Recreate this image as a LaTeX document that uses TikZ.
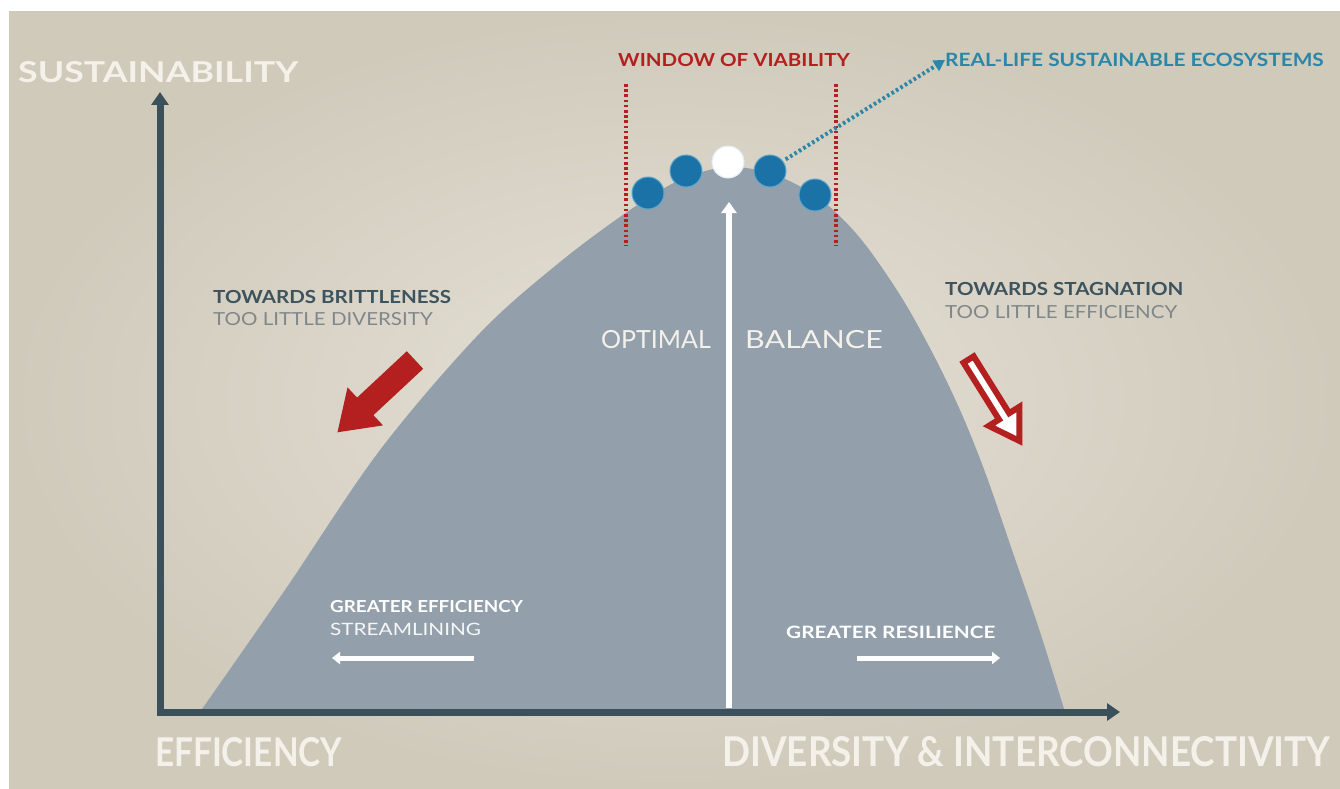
\documentclass[tikz,border=0pt]{standalone}
\usepackage{fontspec}
\setmainfont{Lato}
\newfontfamily\wf[FakeStretch=1.14]{Lato}
\newfontfamily\wfx[FakeStretch=1.22]{Lato}
\usetikzlibrary{arrows.meta,calc}
\definecolor{bgout}{HTML}{D0CABB}
\definecolor{bgin}{HTML}{E6E1D7}
\definecolor{hill}{HTML}{93A0AB}
\definecolor{axisc}{HTML}{3A515B}
\definecolor{redc}{HTML}{B3201F}
\definecolor{bluec}{HTML}{1A72A6}
\definecolor{bluerim}{HTML}{5FA6CC}
\definecolor{tealc}{HTML}{2B86A7}
\definecolor{darktext}{HTML}{3D535D}
\definecolor{greytext}{HTML}{80878A}
\definecolor{lighttext}{HTML}{F4F1EA}
\tikzset{
  axisline/.style={axisc, line width=7pt, -{Triangle[length=13pt,width=17pt]}},
  winline/.style={redc, line width=4pt, dash pattern=on 2.6pt off 2.6pt},
  blueptr/.style={tealc, line width=4pt, dash pattern=on 2.6pt off 2.6pt, -{Triangle[length=11pt,width=12pt]}},
  whitearrow/.style={white, line width=6pt, -{Triangle[length=11pt,width=15pt]}},
  smallarrow/.style={white, line width=5pt, -{Triangle[length=8pt,width=12pt]}},
  dot/.style={circle, minimum size=32pt, inner sep=0pt, draw=bluerim, line width=1pt, fill=bluec},
  wdot/.style={circle, minimum size=32pt, inner sep=0pt, draw=white!80!bluerim, line width=1pt, fill=white},
  lbl/.style={anchor=west, inner sep=0pt},
  headb/.style={lbl, font=\fontsize{18}{20}\wf\bfseries},
  subr/.style={lbl, font=\fontsize{18}{20}\wf},
}
\begin{document}
\begin{tikzpicture}[x=1pt,y=-1pt]
\useasboundingbox (0,0) rectangle (1340,789);
\fill[white] (0,0) rectangle (1340,789);
\shade[inner color=bgin, outer color=bgout] (9,12) rectangle (1340,789);

% hill
\fill[hill] plot[smooth, tension=0.55] coordinates {(200,712) (285,590) (380,450) (480,333) (560,262) (630,210) (680,180) (728,167) (775,175) (820,199) (860,238) (900,295) (932,352) (960,410) (985,472) (1012,550) (1040,632) (1065,712)} -- cycle;

% axes
\coordinate (o) at (160,712);
\coordinate (ytop) at (160,92);
\coordinate (xend) at (1120,712);
\draw[axisline, -] (160,716) -- (o);
\draw[axisline] (o) -- (ytop);
\draw[axisline] (156.5,712) -- (xend);

% optimal balance arrow
\coordinate (vb) at (729,708);
\coordinate (vt) at (729,202);
\draw[whitearrow] (vb) -- (vt);

% window of viability
\coordinate (wl1) at (626,84); \coordinate (wl2) at (626,246);
\coordinate (wr1) at (836,84); \coordinate (wr2) at (836,246);
\draw[winline] (wl1) -- (wl2);
\draw[winline] (wr1) -- (wr2);

% dots
\node[dot] (d1) at (648,193) {};
\node[dot] (d2) at (686,171) {};
\node[wdot] (d3) at (728,162) {};
\node[dot] (d4) at (770,171) {};
\node[dot] (d5) at (815,195) {};

% labels top
\node[headb, text=redc] (win) at (618,60) {WINDOW OF VIABILITY};
\node[lbl, font=\fontsize{18.3}{20}\wf\bfseries, text=tealc] (real) at (945,60) {REAL-LIFE SUSTAINABLE ECOSYSTEMS};
\draw[blueptr] (d4.north east) ++(4,0) -- (real.west);

\node[lbl, text=lighttext] (sus) at (18,72) {\resizebox{280pt}{21pt}{\bfseries SUSTAINABILITY}};
\node[lbl, text=lighttext] (eff) at (155,752) {\resizebox{187pt}{29pt}{\bfseries EFFICIENCY}};
\node[lbl, text=lighttext] (div) at (722,752) {\resizebox{608pt}{30pt}{\bfseries DIVERSITY \& INTERCONNECTIVITY}};

% brittleness
\node[headb, text=darktext] (tb) at (213,297) {TOWARDS BRITTLENESS};
\node[subr, text=greytext] (tl) at (213,319) {TOO LITTLE DIVERSITY};
\begin{scope}[shift={(415,360)}, rotate=-137]
  \fill[redc] (0,-12) -- (68,-12) -- (68,-26) -- (106,0) -- (68,26) -- (68,12) -- (0,12) -- cycle;
\end{scope}

% stagnation
\node[headb, text=darktext] (ts) at (945,289) {TOWARDS STAGNATION};
\node[subr, text=greytext] (te) at (945,312) {TOO LITTLE EFFICIENCY};
\begin{scope}[shift={(967,357)}, rotate=-58]
  \filldraw[draw=redc, fill=white, line width=6pt, line join=miter] (3,-6) -- (70,-6) -- (70,-18) -- (99,0) -- (70,18) -- (70,6) -- (3,6) -- cycle;
\end{scope}

% optimal balance text
\node[anchor=east, inner sep=0pt, font=\fontsize{25}{28}\selectfont, text=lighttext] (opt) at (711,340) {OPTIMAL};
\node[anchor=west, inner sep=0pt, font=\fontsize{25}{28}\wfx, text=lighttext] (bal) at (745,340) {BALANCE};

% greater efficiency
\node[headb, font=\fontsize{16.5}{19}\wf\bfseries, text=white] (ge) at (330,607) {GREATER EFFICIENCY};
\node[subr, font=\fontsize{17}{19}\wfx, text=white!92!hill] (st) at (330,629) {STREAMLINING};
\coordinate (gea) at (474,658); \coordinate (geb) at (332,658);
\draw[smallarrow] (gea) -- (geb);

% greater resilience
\node[headb, font=\fontsize{17}{19}\wfx\bfseries, text=white] (gr) at (786,632) {GREATER RESILIENCE};
\coordinate (gra) at (857,658); \coordinate (grb) at (1000,658);
\draw[smallarrow] (gra) -- (grb);
\end{tikzpicture}
\end{document}
